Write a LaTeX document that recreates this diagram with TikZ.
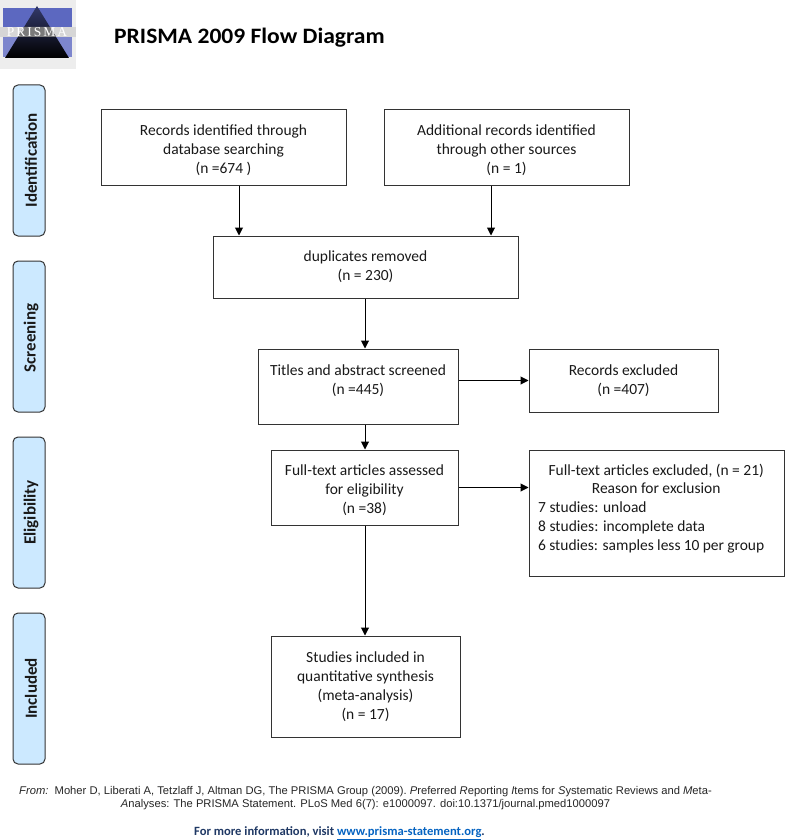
\documentclass[tikz,border=0pt]{standalone}
\usepackage{fontspec}
\setmainfont{Carlito}
\newfontfamily\arialf{Liberation Sans}
\newfontfamily\logof{Liberation Serif}
\usetikzlibrary{arrows.meta}
\definecolor{sidefill}{HTML}{CCE9FF}
\definecolor{edgecol}{HTML}{333333}
\definecolor{footblue}{HTML}{1F3864}
\definecolor{linkblue}{HTML}{0563C1}
\definecolor{logoblue}{HTML}{5C68C0}
\tikzset{
  flowbox/.style={draw=edgecol,line width=1pt,inner sep=0pt,align=center,font=\fontsize{15.5}{19}\selectfont,text=black!90},
  sidebox/.style={draw=edgecol,line width=1pt,fill=sidefill,rounded corners=5pt,inner sep=0pt,minimum width=32pt,minimum height=151pt},
  sidetext/.style={rotate=90,font=\fontsize{17}{20}\selectfont\bfseries,text=black!90},
  arr/.style={draw=black,line width=1pt,-{Triangle[length=8pt,width=8pt]}}
}
\newcommand{\lowerfirst}{\rule{0pt}{17pt}}
\begin{document}
\begin{tikzpicture}[x=1pt,y=-1pt]
\useasboundingbox (0,0) rectangle (784,840);
% logo
\fill[black!7] (0,0) rectangle (76,69);
\fill[logoblue] (3,8) rectangle (72,27);
\fill[logoblue!80!white] (3,37) rectangle (72,57);
\fill[black!16] (0,27) rectangle (76,37);
\shade[top color=logoblue!55!black,bottom color=black] (37,6) -- (69,58) -- (5,58) -- cycle;
\fill[black!52] (24,27) -- (50,27) -- (56,37) -- (18,37) -- cycle;
\node[font=\logof\fontsize{13.5}{14}\selectfont,text=white,inner sep=0pt] (logotext) at (37,32.5) {P\hspace{2pt}R\hspace{2pt}I\hspace{2pt}S\hspace{2pt}M\hspace{2pt}A};
\node[anchor=west,inner sep=0pt,xscale=1.07,font=\fontsize{22}{24}\selectfont\bfseries,text=black] (title) at (114,38) {PRISMA 2009 Flow Diagram};
% side
\node[sidebox] (s1) at (29,160.5) {};
\node[sidebox] (s2) at (29,336.5) {};
\node[sidebox] (s3) at (29,512.5) {};
\node[sidebox] (s4) at (29,688.5) {};
\node[sidetext] (t1) at (31,160.5) {Identification};
\node[sidetext] (t2) at (31,338) {Screening};
\node[sidetext] (t3) at (31,512.5) {Eligibility};
\node[sidetext] (t4) at (31,688.5) {Included};
% boxes
\node[flowbox,minimum width=245pt,minimum height=75pt] (a) at (223.5,147.5) {\lowerfirst Records identified through\\database searching\\(n =674 )};
\node[flowbox,minimum width=245pt,minimum height=75pt] (b) at (506.5,147.5) {\lowerfirst Additional records identified\\through other sources\\(n = 1)};
\node[flowbox,minimum width=305pt,minimum height=62pt] (dup) at (365.5,267) {duplicates removed\\(n = 230)};
\node[flowbox,minimum width=200pt,minimum height=75pt] (scr) at (358,386.5) {Titles and abstract screened\\(n =445)\\[-5pt]\mbox{}};
\node[flowbox,minimum width=189pt,minimum height=63pt] (exc) at (623.5,380.5) {Records excluded\\(n =407)};
\node[flowbox,minimum width=187pt,minimum height=75pt] (full) at (364.5,487.5) {\lowerfirst Full-text articles assessed\\for eligibility\\(n =38)};
\node[flowbox,minimum width=255pt,minimum height=126pt] (exc2) at (656.5,513) {};
\node[font=\fontsize{15.5}{18.7}\selectfont,text=black!90,inner sep=0pt,anchor=north west] (exc2text) at (538,462) {\begin{tabular}{@{}p{226pt}@{}}\multicolumn{1}{@{}c@{}}{\hspace{10pt}Full-text articles excluded, (n = 21)}\\\multicolumn{1}{@{}c@{}}{\hspace{10pt}Reason for exclusion}\\7 studies: unload\\8 studies: incomplete data\\6 studies: samples less 10 per group\end{tabular}};
\node[flowbox,minimum width=189pt,minimum height=101pt] (inc) at (365.5,686.5) {Studies included in\\quantitative synthesis\\(meta-analysis)\\(n = 17)};
% connectors
\coordinate (xa) at (239,0);
\coordinate (xb) at (491,0);
\coordinate (xc) at (365,0);
\draw[arr] (a.south -| xa) -- (dup.north -| xa);
\draw[arr] (b.south -| xb) -- (dup.north -| xb);
\draw[arr] (dup.south -| xc) -- (scr.north -| xc);
\draw[arr] (scr.south -| xc) -- (full.north -| xc);
\draw[arr] (full.south -| xc) -- (inc.north -| xc);
\draw[arr] (scr.east |- exc.west) -- (exc.west);
\draw[arr] (full.east) -- (full.east -| exc2.west);
% footer
\node[font=\arialf\fontsize{11.2}{13}\selectfont,text=black!85,align=center,inner sep=0pt] (ref) at (365.5,798) {\frenchspacing\textit{From:}\ \ Moher D, Liberati A, Tetzlaff J, Altman DG, The PRISMA Group (2009). \textit{P}referred \textit{R}eporting \textit{I}tems for \textit{S}ystematic Reviews and \textit{M}eta-\\\textit{A}nalyses: The PRISMA Statement. PLoS Med 6(7): e1000097. doi:10.1371/journal.pmed1000097};
\node[font=\fontsize{12.6}{15}\selectfont\bfseries,text=footblue,inner sep=0pt] (more) at (339.5,833) {For more information, visit {\color{linkblue}\underline{www.prisma-statement.org}}.};
\end{tikzpicture}
\end{document}
